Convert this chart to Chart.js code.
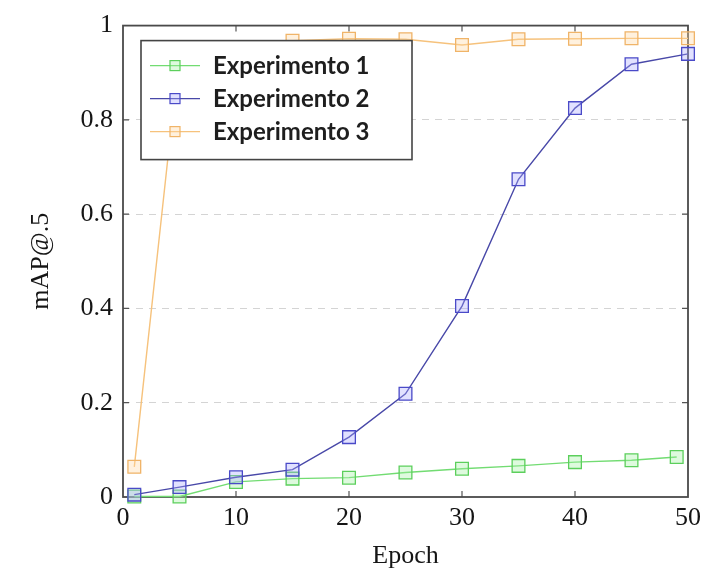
<!DOCTYPE html>
<html>
<head>
<meta charset="utf-8">
<script src="https://cdn.jsdelivr.net/npm/chart.js@4.4.1/dist/chart.umd.min.js"></script>
<style>
  html, body { margin: 0; padding: 0; background: #fff; }
  #wrap { width: 707px; height: 576px; }
</style>
</head>
<body>
<div id="wrap"><canvas id="mapChart" width="707" height="576"></canvas></div>
<script>
//-- data --
const epochs = [1, 5, 10, 15, 20, 25, 30, 35, 40, 45, 50];
const epochsExp1 = [1, 5, 10, 15, 20, 25, 30, 35, 40, 45, 49];
const exp1 = [0.001, 0.001, 0.032, 0.039, 0.041, 0.052, 0.060, 0.066, 0.074, 0.078, 0.085];
const exp2 = [0.005, 0.021, 0.042, 0.058, 0.127, 0.219, 0.405, 0.674, 0.825, 0.918, 0.940];
const exp3 = [0.064, 0.945, 0.950, 0.968, 0.972, 0.971, 0.959, 0.971, 0.972, 0.973, 0.973];
const seriesNames = ["Experimento 1", "Experimento 2", "Experimento 3"];
const xTicks = [0, 10, 20, 30, 40, 50];
const yTicks = [0, 0.2, 0.4, 0.6, 0.8, 1];
const xTitle = "Epoch";
const yTitle = "mAP@.5";

const serif = "'Liberation Serif', 'DejaVu Serif', serif";

function toPoints(xs, ys) {
    return xs.map((x, i) => ({ x: x, y: ys[i] }));
}

function makeSet(label, xs, ys, line, border, fill, order) {
    return {
        label: label,
        data: toPoints(xs, ys),
        borderColor: line,
        borderWidth: 1.4,
        backgroundColor: fill,
        pointStyle: "rect",
        pointRadius: 9,
        pointBorderColor: border,
        pointBackgroundColor: fill,
        pointBorderWidth: 1.3,
        tension: 0,
        clip: false,
        order: order
    };
}

//-- frame + inward ticks like pgfplots --
const framePlugin = {
    id: "frame",
    beforeDatasetsDraw(chart) {
        const { ctx, chartArea: a, scales } = chart;
        ctx.save();
        ctx.strokeStyle = "#555";
        ctx.lineWidth = 1.2;
        xTicks.slice(1, -1).forEach(v => {
            const px = scales.x.getPixelForValue(v);
            ctx.beginPath();
            ctx.moveTo(px, a.bottom); ctx.lineTo(px, a.bottom - 6);
            ctx.moveTo(px, a.top); ctx.lineTo(px, a.top + 6);
            ctx.stroke();
        });
        yTicks.slice(1, -1).forEach(v => {
            const py = scales.y.getPixelForValue(v);
            ctx.beginPath();
            ctx.moveTo(a.left, py); ctx.lineTo(a.left + 6, py);
            ctx.moveTo(a.right, py); ctx.lineTo(a.right - 6, py);
            ctx.stroke();
        });
        ctx.lineWidth = 1.8;
        ctx.strokeStyle = "#4a4a4a";
        ctx.strokeRect(a.left, a.top, a.right - a.left, a.bottom - a.top);
        ctx.restore();
    }
};

//-- legend box drawn over the lines, top-left inside the axes --
const boxLegend = {
    id: "boxLegend",
    afterDatasetsDraw(chart) {
        const { ctx, chartArea: a } = chart;
        const x0 = a.left + 18, y0 = a.top + 15;
        const w = 271, h = 119;
        ctx.save();
        ctx.fillStyle = "#fff";
        ctx.fillRect(x0, y0, w, h);
        ctx.strokeStyle = "#444";
        ctx.lineWidth = 1.6;
        ctx.strokeRect(x0, y0, w, h);
        chart.data.datasets.forEach((ds, i) => {
            const cy = y0 + 25 + i * 33;
            ctx.strokeStyle = ds.borderColor;
            ctx.lineWidth = 1.4;
            ctx.beginPath();
            ctx.moveTo(x0 + 9, cy); ctx.lineTo(x0 + 59, cy);
            ctx.stroke();
            ctx.fillStyle = ds.pointBackgroundColor;
            ctx.fillRect(x0 + 29, cy - 5, 10, 10);
            ctx.strokeStyle = ds.pointBorderColor;
            ctx.lineWidth = 1.2;
            ctx.strokeRect(x0 + 29, cy - 5, 10, 10);
            ctx.fillStyle = "#1e1e1e";
            ctx.font = "bold 24px Lato, 'Open Sans', sans-serif";
            ctx.textBaseline = "middle";
            ctx.fillText(ds.label, x0 + 72, cy + 1);
        });
        ctx.restore();
    }
};

const ctx = document.getElementById("mapChart").getContext("2d");
new Chart(ctx, {
    type: "line",
    data: {
        datasets: [
            makeSet(seriesNames[0], epochsExp1, exp1, "#72dc72", "#5ccf5c", "rgba(160,240,160,0.35)", 2),
            makeSet(seriesNames[1], epochs, exp2, "#4848a8", "#4a4ac8", "rgba(170,170,255,0.35)", 1),
            makeSet(seriesNames[2], epochs, exp3, "#f6c27c", "#f0b468", "rgba(255,215,160,0.35)", 0)
        ]
    },
    options: {
        responsive: false,
        animation: false,
        layout: { padding: { top: 23, right: 16, left: 0, bottom: 0 } },
        plugins: {
            legend: { display: false },
            tooltip: { enabled: false }
        },
        scales: {
            x: {
                type: "linear",
                min: 0,
                max: 50,
                afterBuildTicks: s => { s.ticks = xTicks.map(v => ({ value: v })); },
                afterFit: s => { s.height = 79; },
                grid: { display: false, drawTicks: false },
                border: { display: false },
                ticks: {
                    color: "#151515",
                    padding: 6,
                    maxRotation: 0,
                    callback: v => String(v),
                    font: { family: serif, size: 26 }
                },
                title: {
                    display: true,
                    text: xTitle,
                    color: "#151515",
                    font: { family: serif, size: 26 },
                    padding: { top: 4, bottom: 4 }
                }
            },
            y: {
                type: "linear",
                min: 0,
                max: 1,
                afterBuildTicks: s => { s.ticks = yTicks.map(v => ({ value: v })); },
                afterFit: s => { s.width = 123; },
                grid: {
                    drawTicks: false,
                    color: c => (c.tick && c.tick.value > 0 && c.tick.value < 1) ? "#d4d4d4" : "rgba(0,0,0,0)",
                    lineWidth: 1
                },
                border: { display: false, dash: [7, 6] },
                ticks: {
                    color: "#151515",
                    padding: 10,
                    callback: v => String(v),
                    font: { family: serif, size: 26 }
                },
                title: {
                    display: true,
                    text: yTitle,
                    color: "#151515",
                    font: { family: serif, size: 26 },
                    padding: { top: 26, bottom: 26 }
                }
            }
        }
    },
    plugins: [framePlugin, boxLegend]
});
</script>
</body>
</html>
